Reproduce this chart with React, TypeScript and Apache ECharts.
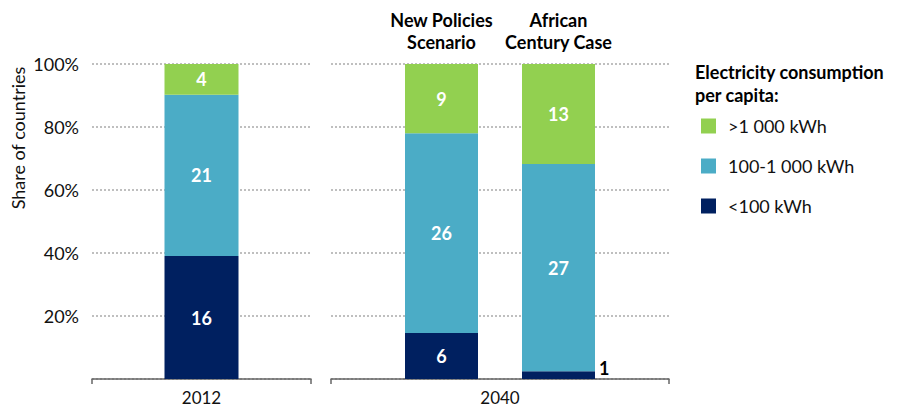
import React, { useEffect, useRef } from 'react';
import * as echarts from 'echarts';

const groupLabels2012 = ['2012'];
const groupLabels2040 = ['2040'];
const scenarios = ['New Policies\nScenario', 'African\nCentury Case'];
const seriesNames = ['<100 kWh', '100-1 000 kWh', '>1 000 kWh'];
const legendOrder = ['>1 000 kWh', '100-1 000 kWh', '<100 kWh'];
const seriesColors = ['#002060', '#4BACC6', '#92D050'];
const counts2012 = [16, 21, 4];
const countsNPS = [6, 26, 9];
const countsACC = [1, 27, 13];
const yTicks = [0, 20, 40, 60, 80, 100];

const FONT = 'Lato, "Open Sans", sans-serif';
const TEXT = '#111111';

const sum = (a: number[]) => a.reduce((s, v) => s + v, 0);

export default function App() {
  const ref = useRef<HTMLDivElement>(null);

  useEffect(() => {
    if (!ref.current) return;
    const chart = echarts.init(ref.current, undefined, { renderer: 'svg' });
    const t2012 = sum(counts2012);
    const tNPS = sum(countsNPS);
    const tACC = sum(countsACC);

    const labelBase = {
      show: true,
      position: 'inside',
      color: '#ffffff',
      fontWeight: 'bold',
      fontSize: 18,
      fontFamily: FONT,
      formatter: (p: any) => String(p.data.count),
    };

    const series: any[] = [];
    seriesNames.forEach((name, i) => {
      series.push({
        type: 'bar',
        name,
        stack: 's2012',
        xAxisIndex: 0,
        yAxisIndex: 0,
        barWidth: 74,
        itemStyle: { color: seriesColors[i] },
        label: labelBase,
        emphasis: { disabled: true },
        data: [{ value: (counts2012[i] / t2012) * 100, count: counts2012[i] }],
      });
      const accItem: any = { value: (countsACC[i] / tACC) * 100, count: countsACC[i] };
      if (countsACC[i] / tACC < 0.05) {
        accItem.label = { position: 'right', color: '#000000', offset: [0, -7], distance: 4 };
      }
      series.push({
        type: 'bar',
        name,
        stack: 's2040',
        xAxisIndex: 2,
        yAxisIndex: 2,
        barWidth: 73,
        itemStyle: { color: seriesColors[i] },
        label: labelBase,
        emphasis: { disabled: true },
        data: [{ value: (countsNPS[i] / tNPS) * 100, count: countsNPS[i] }, accItem],
      });
    });

    const axisLineStyle = { color: '#666666', width: 1.5 };
    const splitLine = { show: true, lineStyle: { type: [2, 2], color: '#AAAAAA', width: 1.5 } };
    const yMin = yTicks[0];
    const yMax = yTicks[yTicks.length - 1];
    const yInterval = yTicks[1] - yTicks[0];
    const xLabel = { fontSize: 17, lineHeight: 16, color: TEXT, margin: 10, fontFamily: FONT };

    const option: any = {
      animation: false,
      textStyle: { fontFamily: FONT },
      grid: [
        { left: 92, width: 219, top: 64, height: 315 },
        { left: 331, width: 338, top: 64, height: 315 },
        { left: 383, width: 234, top: 64, height: 315 },
      ],
      xAxis: [
        {
          gridIndex: 0,
          type: 'category',
          data: groupLabels2012,
          axisLine: { lineStyle: axisLineStyle },
          axisTick: { show: true, length: 5, lineStyle: axisLineStyle },
          axisLabel: xLabel,
        },
        {
          gridIndex: 1,
          type: 'category',
          data: groupLabels2040,
          axisLine: { lineStyle: axisLineStyle },
          axisTick: { show: true, length: 5, lineStyle: axisLineStyle },
          axisLabel: xLabel,
        },
        {
          gridIndex: 2,
          type: 'category',
          position: 'top',
          data: scenarios,
          axisLine: { show: false },
          axisTick: { show: false },
          axisLabel: {
            interval: 0,
            hideOverlap: false,
            fontSize: 18,
            fontWeight: 'bold',
            color: '#000000',
            margin: 11,
            lineHeight: 22,
            fontFamily: FONT,
          },
        },
      ],
      yAxis: [
        {
          gridIndex: 0,
          type: 'value',
          min: yMin,
          max: yMax,
          interval: yInterval,
          axisLine: { show: false },
          axisTick: { show: false },
          axisLabel: {
            fontSize: 18,
            color: TEXT,
            margin: 13,
            fontFamily: FONT,
            formatter: (v: number) => (v === 0 ? '' : v + '%'),
          },
          splitLine,
        },
        {
          gridIndex: 1,
          type: 'value',
          min: yMin,
          max: yMax,
          interval: yInterval,
          axisLine: { show: false },
          axisTick: { show: false },
          axisLabel: { show: false },
          splitLine,
        },
        {
          gridIndex: 2,
          type: 'value',
          min: yMin,
          max: yMax,
          interval: yInterval,
          show: false,
        },
      ],
      legend: {
        orient: 'vertical',
        left: 696,
        top: 112,
        itemWidth: 15,
        itemHeight: 15,
        itemGap: 22,
        icon: 'rect',
        data: legendOrder,
        selectedMode: false,
        textStyle: { fontSize: 18, color: TEXT, fontFamily: FONT, lineHeight: 15, padding: [0, 0, 0, 7] },
      },
      graphic: [
        {
          type: 'text',
          left: 695,
          top: 60,
          style: {
            text: 'Electricity consumption\nper capita:',
            fontSize: 18,
            fontWeight: 'bold',
            lineHeight: 23,
            fill: '#000000',
            fontFamily: FONT,
          },
        },
        {
          type: 'text',
          x: 18,
          y: 138,
          rotation: Math.PI / 2,
          style: {
            text: 'Share of countries',
            fontSize: 18,
            fill: TEXT,
            fontFamily: FONT,
            textAlign: 'center',
            textVerticalAlign: 'middle',
          },
        },
      ],
      series,
    };

    chart.setOption(option);
    return () => chart.dispose();
  }, []);

  return (
    <div
      ref={ref}
      style={{ position: 'fixed', left: 0, top: 0, width: 898, height: 406, background: '#ffffff' }}
    />
  );
}
